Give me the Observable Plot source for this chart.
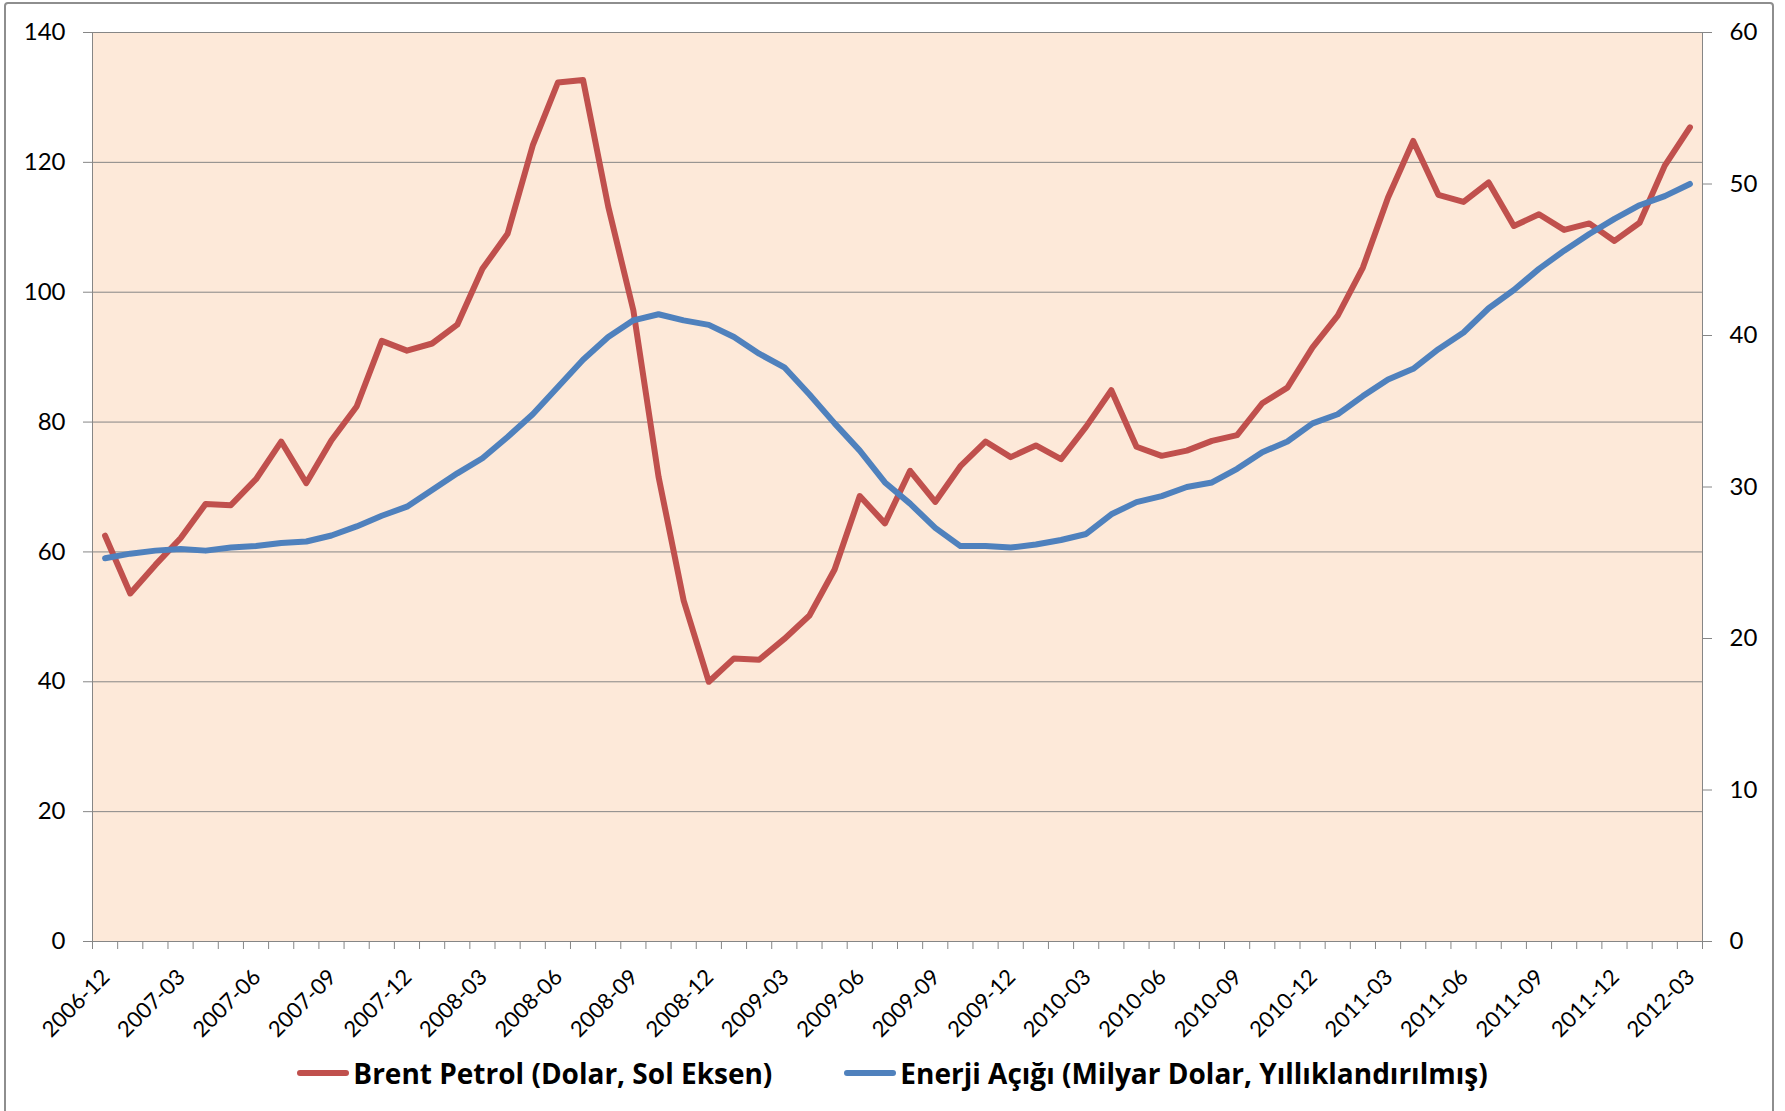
<!DOCTYPE html>
<html><head><meta charset="utf-8">
<script src="https://cdn.jsdelivr.net/npm/d3@7"></script>
<script src="https://cdn.jsdelivr.net/npm/@observablehq/plot@0.6"></script>
<style>
html,body{margin:0;padding:0;background:#fff;}
body{width:1785px;height:1111px;position:relative;overflow:hidden;font-family:Lato,"Open Sans",sans-serif;}
#frame{position:absolute;left:4px;top:2px;width:1770px;height:1125px;border:2px solid #8e8e8e;border-radius:4px;box-sizing:border-box;pointer-events:none;}
#chart{position:absolute;left:0;top:0;}
#legend{position:absolute;left:0;top:1050px;width:1785px;height:46px;display:flex;justify-content:center;align-items:center;gap:72px;font-family:"Open Sans",sans-serif;font-weight:700;font-size:28px;color:#000;}
.item{display:flex;align-items:center;white-space:nowrap;}
.sw{width:52px;height:6px;border-radius:3px;margin-right:4px;}
</style></head>
<body>
<div id="chart"></div><div id="legend"></div><div id="frame"></div>
<script>
const months = [
  "2006-12",
  "2007-01","2007-02","2007-03","2007-04","2007-05","2007-06","2007-07","2007-08","2007-09","2007-10","2007-11","2007-12",
  "2008-01","2008-02","2008-03","2008-04","2008-05","2008-06","2008-07","2008-08","2008-09","2008-10","2008-11","2008-12",
  "2009-01","2009-02","2009-03","2009-04","2009-05","2009-06","2009-07","2009-08","2009-09","2009-10","2009-11","2009-12",
  "2010-01","2010-02","2010-03","2010-04","2010-05","2010-06","2010-07","2010-08","2010-09","2010-10","2010-11","2010-12",
  "2011-01","2011-02","2011-03","2011-04","2011-05","2011-06","2011-07","2011-08","2011-09","2011-10","2011-11","2011-12",
  "2012-01","2012-02","2012-03"
];
// Brent Petrol (Dolar, Sol Eksen)
const brent = [
  62.5,
  53.6,58.0,62.1,67.4,67.2,71.2,77.0,70.6,77.2,82.4,92.5,91.0,
  92.1,95.0,103.6,109.0,122.6,132.3,132.7,113.2,97.2,71.6,52.5,40.0,
  43.6,43.4,46.6,50.2,57.3,68.6,64.4,72.5,67.7,73.2,77.0,74.6,
  76.4,74.3,79.3,84.9,76.2,74.8,75.6,77.1,78.0,82.9,85.3,91.5,
  96.4,103.8,114.6,123.3,115.0,113.9,116.9,110.2,112.0,109.6,110.6,107.9,
  110.7,119.5,125.4
];
// Enerji Açığı (Milyar Dolar, Yıllıklandırılmış) — sağ eksen
const energy = [
  25.3,
  25.6,25.8,25.9,25.8,26.0,26.1,26.3,26.4,26.8,27.4,28.1,28.7,
  29.8,30.9,31.9,33.3,34.8,36.6,38.4,39.9,41.0,41.4,41.0,40.7,
  39.9,38.8,37.9,36.1,34.2,32.4,30.3,28.9,27.3,26.1,26.1,26.0,
  26.2,26.5,26.9,28.2,29.0,29.4,30.0,30.3,31.2,32.3,33.0,34.2,
  34.8,36.0,37.1,37.8,39.1,40.2,41.8,43.0,44.4,45.6,46.7,47.7,
  48.6,49.2,50.0
];
const xTickLabels = ["2006-12","2007-03","2007-06","2007-09","2007-12","2008-03","2008-06","2008-09","2008-12","2009-03","2009-06","2009-09","2009-12","2010-03","2010-06","2010-09","2010-12","2011-03","2011-06","2011-09","2011-12","2012-03"];
const leftTicks = [0,20,40,60,80,100,120,140];
const rightTicks = [0,10,20,30,40,50,60];
const seriesNames = ["Brent Petrol (Dolar, Sol Eksen)","Enerji Açığı (Milyar Dolar, Yıllıklandırılmış)"];
const seriesColors = ["#C0504D","#4F81BD"];

const LEFT_MAX = 140, RIGHT_MAX = 60, k = LEFT_MAX / RIGHT_MAX;
const data = months.map((m, i) => ({month: m, i, brent: brent[i], energy: energy[i]}));
const idx = m => months.indexOf(m);
const axisGray = "#868686";

const plot = Plot.plot({
  width: 1785, height: 1050,
  marginLeft: 92, marginRight: 83, marginTop: 32, marginBottom: 109,
  style: {fontFamily: "Lato", fontSize: "24px", color: "#000", background: "transparent", overflow: "visible"},
  x: {type: "linear", domain: [-0.5, months.length - 0.5], axis: null},
  y: {domain: [0, LEFT_MAX], axis: null},
  marks: [
    Plot.frame({fill: "#FDE9D9", stroke: null}),
    Plot.gridY(leftTicks, {stroke: axisGray, strokeOpacity: 1, strokeWidth: 1}),
    Plot.ruleX([-0.5, months.length - 0.5], {stroke: axisGray, strokeWidth: 1}),
    Plot.ruleY([0], {stroke: axisGray, strokeWidth: 1}),
    Plot.axisY(leftTicks, {anchor: "left", tickSize: 9, tickPadding: 18, stroke: axisGray, fill: "#000", fontSize: 24, label: null}),
    Plot.axisY(rightTicks.map(v => v * k), {anchor: "right", tickSize: 9, tickPadding: 18, stroke: axisGray, fill: "#000", fontSize: 24, label: null, tickFormat: v => String(Math.round(v / k))}),
    Plot.axisX(d3.range(-0.5, months.length), {anchor: "bottom", tickSize: 8, tickFormat: () => "", stroke: axisGray, label: null}),
    Plot.axisX(xTickLabels.map(idx), {anchor: "bottom", tickSize: 0, tickRotate: -45, tickPadding: 32, dx: 1, tickFormat: i => months[i], fontSize: 22, fill: "#000", label: null}),
    Plot.line(data, {x: "i", y: "brent", stroke: seriesColors[0], strokeWidth: 6, strokeLinejoin: "round", strokeLinecap: "round"}),
    Plot.line(data, {x: "i", y: d => d.energy * k, stroke: seriesColors[1], strokeWidth: 6, strokeLinejoin: "round", strokeLinecap: "round"})
  ]
});
document.getElementById("chart").appendChild(plot);

const legend = document.getElementById("legend");
seriesNames.forEach((n, j) => {
  const it = document.createElement("div");
  it.className = "item";
  const sw = document.createElement("span");
  sw.className = "sw";
  sw.style.background = seriesColors[j];
  const tx = document.createElement("span");
  tx.textContent = n;
  it.appendChild(sw); it.appendChild(tx);
  legend.appendChild(it);
});
</script>
</body></html>
